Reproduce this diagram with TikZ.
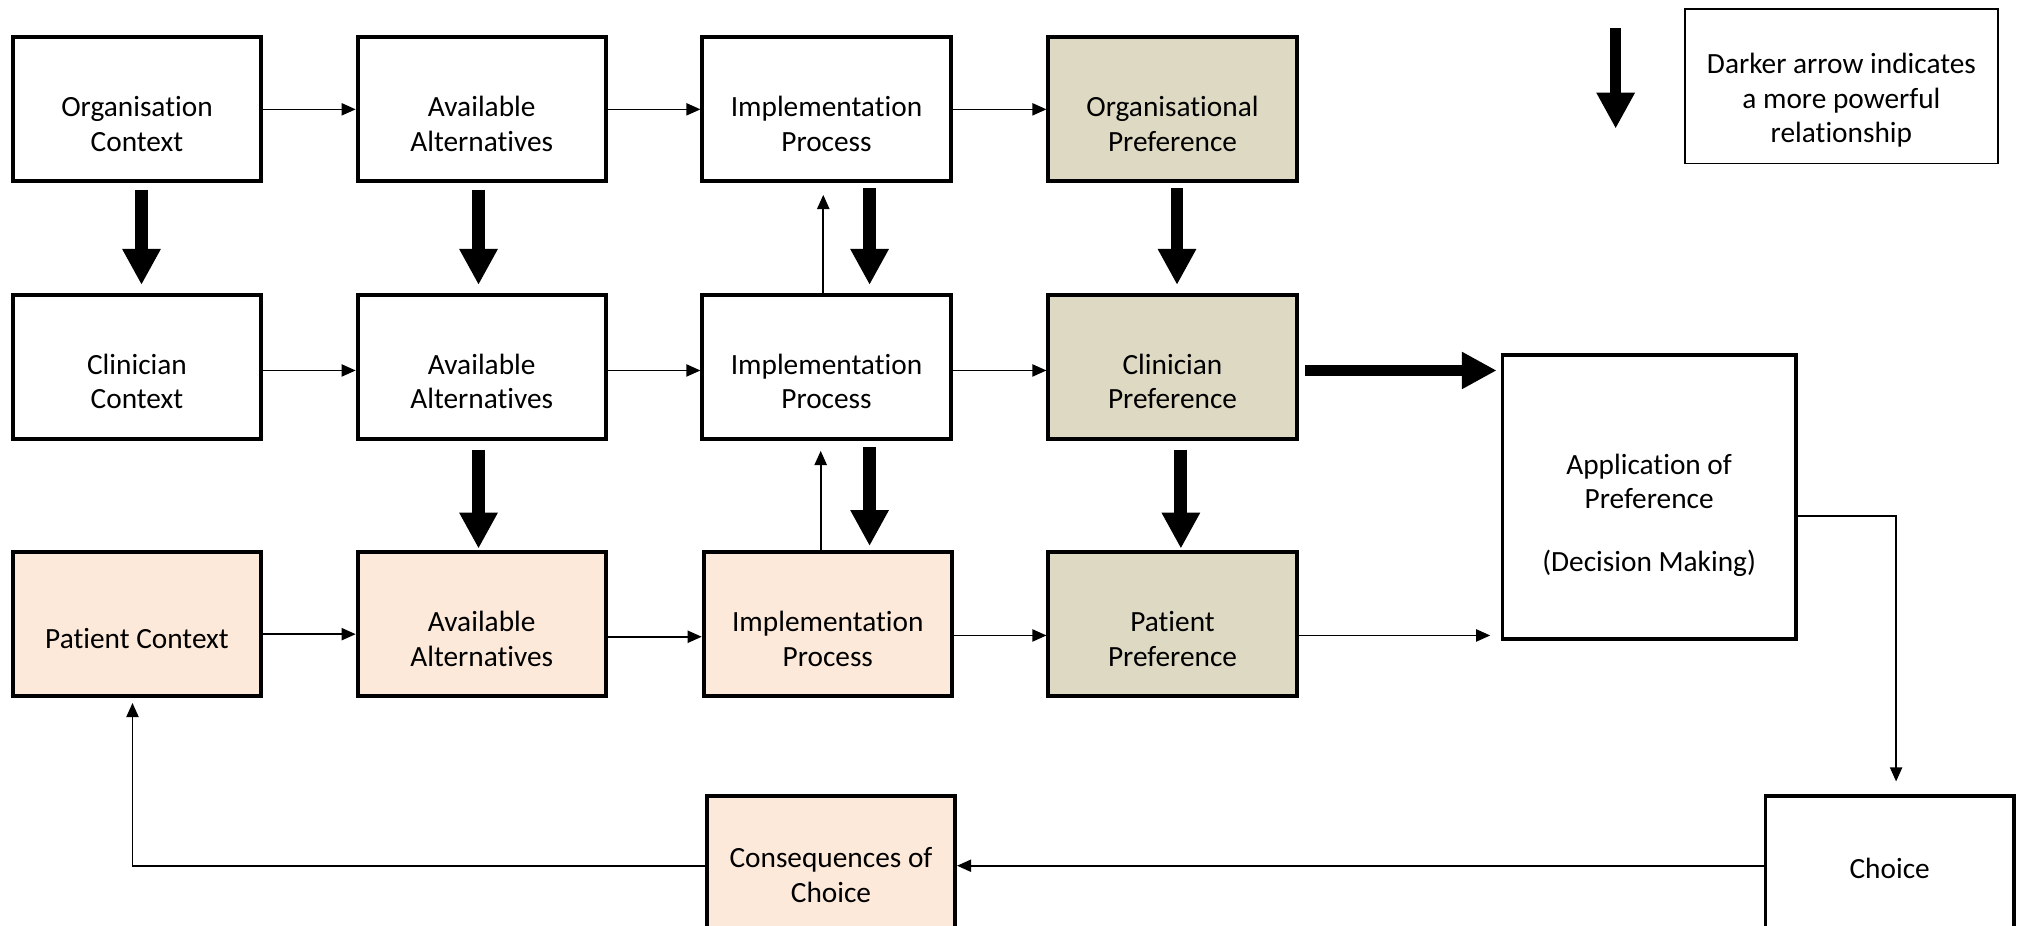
\documentclass[tikz,border=0pt]{standalone}
\usepackage{fontspec}
\setmainfont{Carlito}[Ligatures=NoCommon]
\usetikzlibrary{arrows.meta}
\definecolor{tanfill}{HTML}{DDD9C3}
\definecolor{peachfill}{HTML}{FDE9D9}
% strut on the first text line, so that the label sits a little below the box centre
\newcommand{\textdrop}[1][39pt]{\rule{0pt}{#1}}
\begin{document}
\begin{tikzpicture}[x=1pt,y=-1pt,
  txt/.style={font=\fontsize{22.8pt}{27pt}\selectfont, align=center},
  box/.style={txt, draw=black, line width=3pt, minimum width=193pt,
    minimum height=112pt, inner sep=2pt},
  plain/.style={box, fill=white},
  pref/.style={box, fill=tanfill},
  patient/.style={box, fill=peachfill},
  keybox/.style={txt, draw=black, line width=1.3pt, minimum width=243pt,
    minimum height=120pt, inner sep=2pt},
  link/.style={line width=1.3pt, -{Triangle[width=9.5pt,length=11pt]}},
  strong/.style={line width=10pt, -{Triangle[width=28pt,length=28pt]}},
]
\useasboundingbox (0,0) rectangle (1568,719.3);

% organisation level
\node[plain] (A1) at (106.5,85) {\textdrop Organisation\\Context};
\node[plain] (B1) at (374.5,85) {\textdrop Available\\Alternatives};
\node[plain] (C1) at (642.5,85) {\textdrop Implementation\\Process};
\node[pref]  (D1) at (911.5,85) {\textdrop Organisational\\Preference};

% clinician level
\node[plain] (A2) at (106.5,285) {\textdrop Clinician\\Context};
\node[plain] (B2) at (374.5,285) {\textdrop Available\\Alternatives};
\node[plain] (C2) at (642.5,285) {\textdrop Implementation\\Process};
\node[pref]  (D2) at (911.5,285) {\textdrop Clinician\\Preference};

% patient level
\node[patient] (A3) at (106.5,485) {\textdrop[38pt]Patient Context};
\node[patient] (B3) at (374.5,485) {\textdrop Available\\Alternatives};
\node[patient] (C3) at (643.5,485) {\textdrop Implementation\\Process};
\node[pref]    (D3) at (911.5,485) {\textdrop Patient\\Preference};

% decision and outcome
\node[plain, minimum width=228pt, minimum height=221pt] (App) at (1282,386.5)
  {\textdrop[44pt]Application of\\Preference\\[22pt](Decision Making)};
\node[plain] (Choice) at (1469,675) {Choice};
\node[patient] (Cons) at (646,675) {\textdrop[26pt]Consequences of\\Choice};

% key
\node[keybox] (Key) at (1431.5,67)
  {\textdrop[38pt]Darker arrow indicates\\a more powerful\\relationship};
\coordinate (keytop) at (1256,22);
\coordinate (keytip) at (1256,100);
\draw[strong, line width=9pt] (keytop) -- (keytip);

% flow along each level
\draw[link] (A1.east) -- (B1.west);
\draw[link] (B1.east) -- (C1.west);
\draw[link] (C1.east) -- (D1.west);
\draw[link] ([yshift=-3pt]A2.east) -- ([yshift=-3pt]B2.west);
\draw[link] ([yshift=-3pt]B2.east) -- ([yshift=-3pt]C2.west);
\draw[link] ([yshift=-3pt]C2.east) -- ([yshift=-3pt]D2.west);
\draw[link] ([yshift=-8pt]A3.east) -- ([yshift=-8pt]B3.west);
\draw[link] ([yshift=-10pt]B3.east) -- ([yshift=-10pt]C3.west);
\draw[link] ([yshift=-9pt]C3.east) -- ([yshift=-9pt]D3.west);

% influence between levels
\draw[strong, shorten <=5pt, shorten >=6pt] ([xshift=3.5pt]A1.south) -- ([xshift=3.5pt]A2.north);
\draw[strong, shorten <=5pt, shorten >=6pt] ([xshift=-2.5pt]B1.south) -- ([xshift=-2.5pt]B2.north);
\draw[strong, shorten <=4pt, shorten >=6pt] ([xshift=33.5pt]C1.south) -- ([xshift=33.5pt]C2.north);
\draw[strong, shorten <=4pt, shorten >=6pt] ([xshift=3.5pt]D1.south) -- ([xshift=3.5pt]D2.north);
\draw[strong, shorten <=7pt, shorten >=1pt] ([xshift=-2.5pt]B2.south) -- ([xshift=-2.5pt]B3.north);
\draw[strong, shorten <=5pt, shorten >=3pt] ([xshift=33.5pt]C2.south) -- ([xshift=33.5pt]C2.south |- C3.north);
\draw[strong, shorten <=7pt, shorten >=1pt] ([xshift=6.5pt]D2.south) -- ([xshift=6.5pt]D3.north);

% feedback to the implementation process
\draw[link, shorten >=9pt] ([xshift=-2.5pt]C2.north) -- ([xshift=-2.5pt]C1.south);
\draw[link, shorten >=8pt] ([xshift=-5.5pt]C3.north) -- ([xshift=-5.5pt]C3.north |- C2.south);

% preferences into decision making
\draw[strong, line width=9pt, -{Triangle[width=27pt,length=27pt]}, shorten <=5pt, shorten >=3pt]
  ([yshift=-3pt]D2.east) -- ([yshift=-3pt]D2.east -| App.west);
\draw[link, shorten >=8pt] ([yshift=-9pt]D3.east) -- ([yshift=-9pt]D3.east -| App.west);

% decision, choice and its consequences
\draw[link, shorten >=10pt] ([yshift=-14.5pt]App.east) -| ([xshift=5pt]Choice.north);
\draw[link] ([yshift=2pt]Choice.west) -- ([yshift=2pt]Cons.east);
\draw[link, shorten >=4pt] ([yshift=2pt]Cons.west) -| ([xshift=-3.5pt]A3.south);
\end{tikzpicture}
\end{document}
